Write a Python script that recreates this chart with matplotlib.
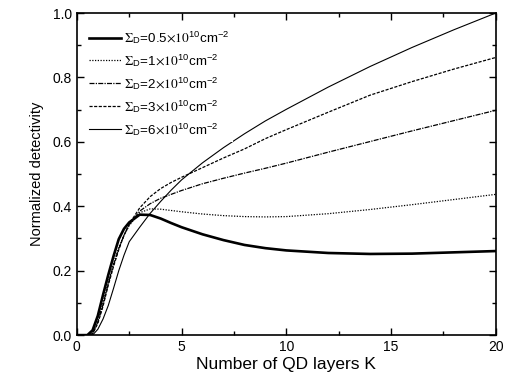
import numpy as np
import matplotlib
matplotlib.use("Agg")
import matplotlib.pyplot as plt
from matplotlib.ticker import MultipleLocator

plt.rcParams['font.family'] = ['Liberation Sans', 'DejaVu Sans']
plt.rcParams['mathtext.fontset'] = 'stix'

# Number of QD layers K
K = [0, 0.5, 0.75, 1.0, 1.25, 1.5, 1.75, 2.0, 2.25, 2.5, 3.0, 3.5, 4.0, 4.5,
     5, 6, 7, 8, 9, 10, 12, 14, 16, 18, 20]

# normalized detectivity for each Sigma_D
d_05 = [0, 0.0, 0.015, 0.06, 0.125, 0.187, 0.245, 0.298, 0.33, 0.35, 0.374, 0.373,
        0.362, 0.348, 0.335, 0.313, 0.295, 0.28, 0.27, 0.263, 0.255, 0.252, 0.253,
        0.257, 0.261]
d_1 = [0, 0.0, 0.006, 0.045, 0.1, 0.165, 0.222, 0.272, 0.31, 0.34, 0.38, 0.392,
       0.391, 0.387, 0.383, 0.376, 0.371, 0.368, 0.367, 0.368, 0.377, 0.39, 0.405,
       0.421, 0.437]
d_2 = [0, 0.0, 0.005, 0.04, 0.095, 0.16, 0.218, 0.268, 0.31, 0.343, 0.385, 0.408,
       0.425, 0.437, 0.449, 0.47, 0.487, 0.503, 0.518, 0.534, 0.568, 0.601, 0.634,
       0.666, 0.698]
d_3 = [0, 0.0, 0.004, 0.036, 0.09, 0.155, 0.213, 0.265, 0.31, 0.345, 0.395, 0.43,
       0.455, 0.474, 0.49, 0.52, 0.55, 0.578, 0.61, 0.638, 0.692, 0.745, 0.787,
       0.826, 0.862]
d_6 = [0, 0.0, 0.0, 0.018, 0.05, 0.092, 0.145, 0.2, 0.248, 0.29, 0.335, 0.378,
       0.415, 0.45, 0.482, 0.535, 0.582, 0.625, 0.665, 0.701, 0.77, 0.834, 0.893,
       0.948, 1.0]

sigma = ['0.5', '1', '2', '3', '6']
labels = [r'$\Sigma_{\mathregular{D}}$=' + s +
          r'$\times10^{\mathregular{10}}$cm$^{\mathregular{-2}}$' for s in sigma]

fig = plt.figure(figsize=(5.09, 3.83), dpi=100)
ax = fig.add_axes([0.151, 0.125, 0.823, 0.841])

ax.plot(K, d_05, color='black', lw=1.9, ls='-', label=labels[0])
ax.plot(K, d_1, color='black', lw=0.9, ls=(0, (1, 1.2)), label=labels[1])
ax.plot(K, d_2, color='black', lw=0.9, ls=(0, (4, 1, 1, 1)), label=labels[2])
ax.plot(K, d_3, color='black', lw=0.9, ls=(0, (2.5, 1.2)), label=labels[3])
ax.plot(K, d_6, color='black', lw=0.8, ls='-', label=labels[4])

ax.set_xlim(0, 20)
ax.set_ylim(0, 1.0)
ax.xaxis.set_major_locator(MultipleLocator(5))
ax.xaxis.set_minor_locator(MultipleLocator(2.5))
ax.yaxis.set_major_locator(MultipleLocator(0.2))
ax.yaxis.set_minor_locator(MultipleLocator(0.1))
ax.yaxis.set_major_formatter(matplotlib.ticker.FormatStrFormatter('%.1f'))
ax.tick_params(which='both', direction='in', top=True, right=True, labelsize=10, width=1.0)
ax.tick_params(which='major', length=5)
ax.tick_params(which='minor', length=3)
for s in ax.spines.values():
    s.set_linewidth(1.2)

ax.set_xlabel('Number of QD layers K', fontsize=12.5, labelpad=2)
ax.set_ylabel('Normalized detectivity', fontsize=10.5, labelpad=6)

leg = ax.legend(loc='upper left', bbox_to_anchor=(0.01, 0.975), fontsize=9.6,
                frameon=True, edgecolor='none', facecolor='white', framealpha=1,
                fancybox=False, handlelength=2.4, handletextpad=0.2,
                labelspacing=0.45, borderpad=0.3, borderaxespad=0.3)

fig.savefig('out.png', dpi=100)
